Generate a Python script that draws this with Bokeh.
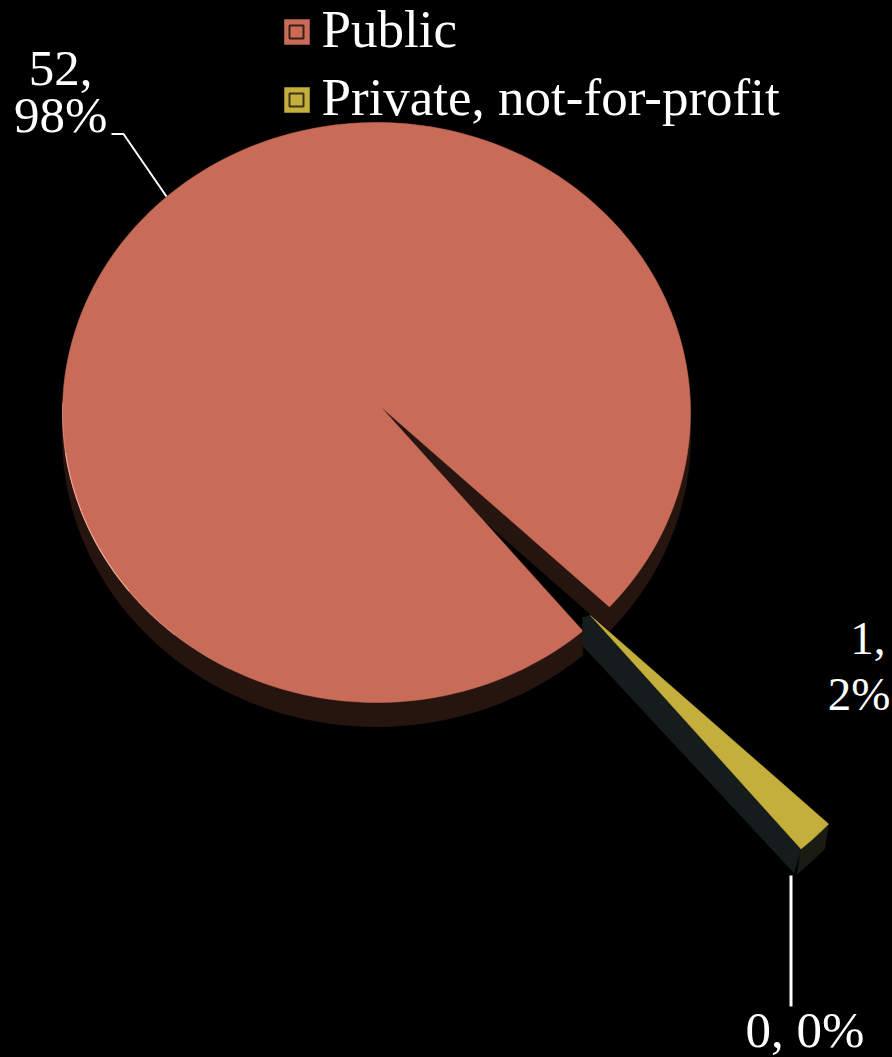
import math
from bokeh.core.properties import value
from bokeh.embed import file_html
from bokeh.models import Range1d
from bokeh.plotting import figure
from bokeh.resources import INLINE

# data
categories = ["Public", "Private, not-for-profit", "Other"]
counts = [52, 1, 0]
percent_labels = ["98%", "2%", "0%"]
colors = ["#C86B58", "#C4AE3C"]

# layout (page pixels)
W, H = 892, 1057
CX, CY, RX, RY = 376, 412, 314, 290
APEX = (380, 406)
DEPTH = 24
START = 42.1          # degrees, clockwise from east, where the small slice begins
EXPLODED_APEX = (590, 615)
EXPLODED_SCALE = 1.04
FONT = value("Liberation Serif")
BASE_SHIFT = -19


def rim(a_deg):
    a = math.radians(a_deg)
    return CX + RX * math.cos(a), CY + RY * math.sin(a)


def arc(a0, a1, n=240):
    return [rim(a0 + (a1 - a0) * i / n) for i in range(n + 1)]


total = sum(counts)
small = counts[1] / total * 360
main = counts[0] / total * 360
small_a0, small_a1 = START, START + small
main_a0, main_a1 = small_a1, small_a1 + main

p = figure(width=W, height=H, output_backend="svg", toolbar_location=None,
           x_range=Range1d(0, W), y_range=Range1d(H, 0), min_border=0,
           background_fill_color="black", border_fill_color="black",
           outline_line_color=None)
p.axis.visible = False
p.grid.visible = False
p.styles = {"position": "fixed", "left": "0", "top": "0", "background-color": "black"}


def poly(pts, color, **kw):
    p.patch([q[0] for q in pts], [q[1] for q in pts], fill_color=color,
            line_color=color, line_width=0.5, **kw)


# main slice: wall, then top
main_arc = arc(main_a0, main_a1)
down = lambda pts, dx=0, dy=DEPTH: [(x + dx, y + dy) for x, y in pts]
wall = "#26150F"
poly(down([APEX] + main_arc), wall)
poly(main_arc + down(main_arc)[::-1], wall)
poly([APEX] + main_arc, colors[0])

# soft highlight along the lower-left rim, fading at both ends
for a0, a1, alpha in [(118, 130, 0.25), (130, 142, 0.55), (142, 172, 0.95), (172, 182, 0.5)]:
    hl = arc(a0, a1, 20)
    p.line([q[0] for q in hl], [q[1] for q in hl], line_color="#F2AD9C",
           line_width=1.2, line_alpha=alpha)


# exploded small slice
def exploded(pt):
    return (EXPLODED_APEX[0] + EXPLODED_SCALE * (pt[0] - APEX[0]),
            EXPLODED_APEX[1] + EXPLODED_SCALE * (pt[1] - APEX[1]))


small_arc = [exploded(q) for q in arc(small_a0, small_a1, 12)]
left_tip, right_tip = small_arc[-1], small_arc[0]
side = "#161C1C"
poly([(EXPLODED_APEX[0] - 8, EXPLODED_APEX[1] + 2), EXPLODED_APEX, left_tip,
      (left_tip[0] - 7, left_tip[1] + 24), (EXPLODED_APEX[0] - 8, EXPLODED_APEX[1] + 30)], side)
poly(small_arc + [(x - 4, y + 25) for x, y in small_arc[::-1]], "#1A1C14")
poly([EXPLODED_APEX] + small_arc, colors[1])

# leader lines
p.line([111, 123, 166], [133.5, 133.5, 196], line_color="white", line_width=2)
p.line([790.5, 790.5], [875, 1006], line_color="white", line_width=3)

# labels
txt = dict(text_font=FONT, text_color="white", text_baseline="alphabetic", y_offset=BASE_SHIFT)
p.text([92], [87], text=[f"{counts[0]},"], text_align="right", text_font_size="51px", **txt)
p.text([107], [133], text=[percent_labels[0]], text_align="right", text_font_size="51px", **txt)
p.text([885], [657], text=[f"{counts[1]},"], text_align="right", text_font_size="47px", **txt)
p.text([890], [712], text=[percent_labels[1]], text_align="right", text_font_size="47px", **txt)
p.text([864], [1048], text=[f"{counts[2]}, {percent_labels[2]}"], text_align="right",
       text_font_size="51px", **txt)

# legend
for i, (name, col) in enumerate(zip(categories[:2], colors)):
    y0 = 19 + 68 * i
    poly([(284, y0), (309, y0), (309, y0 + 25), (284, y0 + 25)], col)
    p.quad(left=[289], right=[303], top=[y0 + 6], bottom=[y0 + 19], fill_color=col,
           line_color="#3A1E14" if i == 0 else "#3A3414", line_width=2)
    p.text([321], [47 + 68 * i], text=[name], text_align="left", text_font_size="53px", **txt)

open("out.html", "w").write(file_html(p, INLINE))
